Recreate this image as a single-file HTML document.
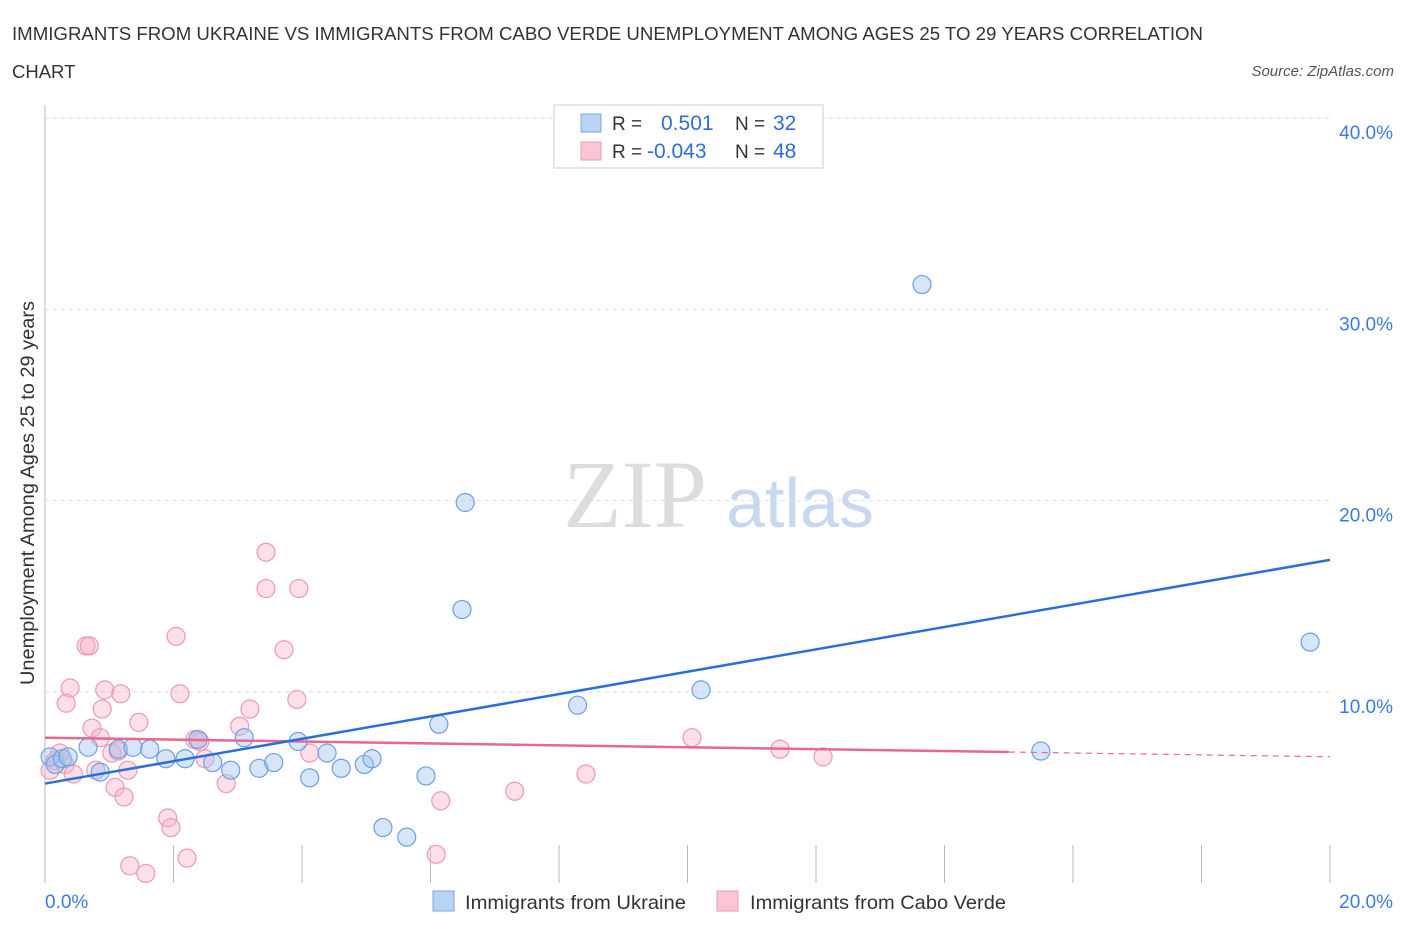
<!DOCTYPE html>
<html><head><meta charset="utf-8"><style>
body{margin:0;background:#fff;font-family:"Liberation Sans",sans-serif;}
</style></head><body>
<svg width="1406" height="930" xmlns="http://www.w3.org/2000/svg" id="svg" font-family="Liberation Sans, sans-serif">
<text x="12" y="40" font-size="18.5" fill="#333" textLength="1191" lengthAdjust="spacingAndGlyphs">IMMIGRANTS FROM UKRAINE VS IMMIGRANTS FROM CABO VERDE UNEMPLOYMENT AMONG AGES 25 TO 29 YEARS CORRELATION</text>
<text x="12" y="78" font-size="18.5" fill="#333">CHART</text>
<text x="1394" y="76" font-size="15" fill="#555" font-style="italic" text-anchor="end">Source: ZipAtlas.com</text>
<text x="635" y="527" font-size="96" fill="#ddd" font-family="Liberation Serif, serif" text-anchor="middle">ZIP</text>
<text x="800" y="527" font-size="70" fill="#c8d8ee" text-anchor="middle">atlas</text>
<g id="grid"></g><g id="marks"></g>
<text x="34" y="493" font-size="19" fill="#333" text-anchor="middle" transform="rotate(-90 34 493)" textLength="384" lengthAdjust="spacingAndGlyphs">Unemployment Among Ages 25 to 29 years</text>
<g>
<rect x="554" y="105" width="269" height="63" fill="#fff" stroke="#ccc"/>
<rect x="581" y="114" width="20" height="18" fill="#b9d3f5" stroke="#7aa6e6"/>
<rect x="581" y="142" width="20" height="18" fill="#f9c6d4" stroke="#ec9ab2"/>
<text x="612" y="130" font-size="19" fill="#333">R =</text><text x="661" y="130" font-size="21" fill="#2e6fd6">0.501</text>
<text x="735" y="130" font-size="19" fill="#333">N =</text><text x="773" y="130" font-size="21" fill="#2e6fd6">32</text>
<text x="612" y="158" font-size="19" fill="#333">R =</text><text x="647" y="158" font-size="21" fill="#2e6fd6">-0.043</text>
<text x="735" y="158" font-size="19" fill="#333">N =</text><text x="773" y="158" font-size="21" fill="#2e6fd6">48</text>
</g>
<g>
<rect x="433" y="891" width="21" height="20" fill="#b9d3f5" stroke="#7aa6e6"/>
<text x="465" y="909" font-size="19.5" fill="#333" textLength="221" lengthAdjust="spacingAndGlyphs">Immigrants from Ukraine</text>
<rect x="717" y="891" width="21" height="20" fill="#f9c6d4" stroke="#ec9ab2"/>
<text x="750" y="909" font-size="19.5" fill="#333" textLength="256" lengthAdjust="spacingAndGlyphs">Immigrants from Cabo Verde</text>
</g>
</svg>
<script>
const yTicks=[10,20,30,40];
const yTickLabels=["10.0%","20.0%","30.0%","40.0%"];
const ukraineX=[0.08,0.16,0.27,0.36,0.67,0.86,1.14,1.37,1.63,1.88,2.18,2.38,2.61,2.89,3.10,3.33,3.56,3.94,4.12,4.39,4.61,4.97,5.09,5.26,5.63,5.93,6.13,6.49,6.54,8.29,10.21,13.65,15.50,19.69];
const ukraineY=[6.6,6.2,6.5,6.6,7.1,5.8,7.0,7.1,7.0,6.5,6.5,7.5,6.3,5.9,7.6,6.0,6.3,7.4,5.5,6.8,6.0,6.2,6.5,2.9,2.4,5.6,8.3,14.3,19.9,9.3,10.1,31.3,6.9,12.6];
const caboX=[0.08,0.16,0.23,0.31,0.39,0.33,0.44,0.64,0.69,0.73,0.79,0.86,0.89,0.93,1.04,1.09,1.14,1.18,1.23,1.29,1.32,1.46,1.57,1.91,1.96,2.04,2.10,2.21,2.33,2.41,2.49,2.82,3.03,3.19,3.44,3.44,3.72,3.92,3.95,4.12,6.09,6.16,7.31,8.42,10.07,11.44,12.11];
const caboY=[5.9,6.4,6.8,6.2,10.2,9.4,5.7,12.4,12.4,8.1,5.9,7.6,9.1,10.1,6.8,5.0,6.9,9.9,4.5,5.9,0.9,8.4,0.5,3.4,2.9,12.9,9.9,1.3,7.5,7.4,6.5,5.2,8.2,9.1,17.3,15.4,12.2,9.6,15.4,6.8,1.5,4.3,4.8,5.7,7.6,7.0,6.6];
const blueTrend=[5.2,16.9];
const pinkTrend=[7.6,6.6];
const X0=45,X1=1330,Y0=883,PPU=19.12;
const sx=v=>X0+(v/20)*(X1-X0), sy=v=>Y0-v*PPU;
const NS="http://www.w3.org/2000/svg";
function mk(parent,tag,attrs){const e=document.createElementNS(NS,tag);for(const k in attrs)e.setAttribute(k,attrs[k]);document.getElementById(parent).appendChild(e);return e;}
let e=mk('grid','line',{x1:X0,y1:105,x2:X0,y2:Y0,stroke:'#bbb'});


yTicks.forEach((t,i)=>{
 let g=mk('grid','line',{x1:X0,y1:sy(t),x2:X1,y2:sy(t),stroke:'#ddd','stroke-dasharray':'4,4'});
 
 
 let l=mk('grid','text',{x:1393,y:sy(t)+21,'font-size':19,fill:'#3b7be0','text-anchor':'end'});
 l.textContent=yTickLabels[i];
 
 
});
for(let i=0;i<=10;i++){
 let t=mk('grid','line',{x1:sx(i*2),y1:845,x2:sx(i*2),y2:Y0,stroke:'#bbb'});
 
 
}
let a=mk('grid','text',{x:45,y:908,'font-size':19,fill:'#3b7be0'});a.textContent='0.0%';


let b=mk('grid','text',{x:1393,y:908,'font-size':19,fill:'#3b7be0','text-anchor':'end'});b.textContent='20.0%';


caboX.forEach((x,i)=>{
 let c=mk('marks','circle',{cx:sx(x),cy:sy(caboY[i]),r:9,fill:'rgba(248,175,198,0.4)',stroke:'#ec9ab2','stroke-width':1.2});
 
 
});
ukraineX.forEach((x,i)=>{
 let c=mk('marks','circle',{cx:sx(x),cy:sy(ukraineY[i]),r:9,fill:'rgba(165,198,240,0.45)',stroke:'#6f9fe2','stroke-width':1.2});
 
 
});
const pAt=x=>pinkTrend[0]+(pinkTrend[1]-pinkTrend[0])*x/20;
let p1=mk('marks','line',{x1:sx(0),y1:sy(pAt(0)),x2:sx(15),y2:sy(pAt(15)),stroke:'#e8688f','stroke-width':2.5});


let p2=mk('marks','line',{x1:sx(15),y1:sy(pAt(15)),x2:sx(20),y2:sy(pAt(20)),stroke:'#e8688f','stroke-width':1.2,'stroke-dasharray':'6,5'});


let bl=mk('marks','line',{x1:sx(0),y1:sy(blueTrend[0]),x2:sx(20),y2:sy(blueTrend[1]),stroke:'#2a6fd8','stroke-width':2.5});


</script>
</body></html>
